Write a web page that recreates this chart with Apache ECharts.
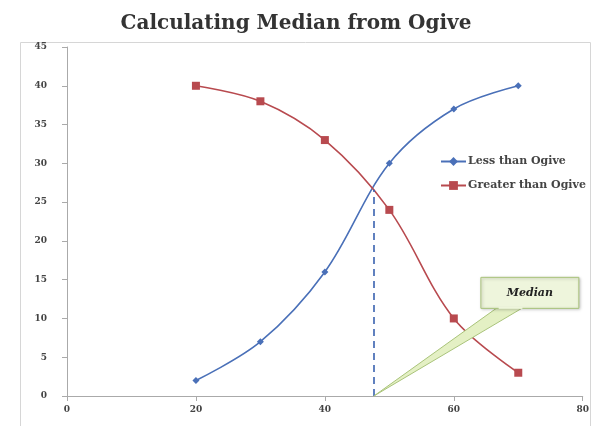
<!DOCTYPE html>
<html>
<head>
<meta charset="utf-8">
<script src="https://cdn.jsdelivr.net/npm/echarts@6/dist/echarts.min.js"></script>
<style>
  html, body { margin: 0; padding: 0; background: #fff; }
  #chart { width: 592px; height: 426px; }
</style>
</head>
<body>
<div id="chart"></div>
<script>
// Class upper limits and cumulative frequencies
const classLimits = [20, 30, 40, 50, 60, 70];
const lessThan = [2, 7, 16, 30, 37, 40];
const greaterThan = [40, 38, 33, 24, 10, 3];
const xTicks = [0, 20, 40, 60, 80];
const yTicks = [0, 5, 10, 15, 20, 25, 30, 35, 40, 45];
// Where the two ogives cross
const medianX = 47.6;
const medianY = 26.6;
// Callout box corners in data units (x1, y1, x2, y2) and its pointer base (x1, x2)
const calloutBox = [64.2, 15.3, 79.4, 11.3];
const calloutBase = [66.8, 70.8];

const fontFamily = '"DejaVu Serif", "Liberation Serif", serif';
const blue = '#4a70b8';
const red = '#b84a4f';

const chart = echarts.init(document.getElementById('chart'));

const option = {
  animation: false,
  title: {
    text: 'Calculating Median from Ogive',
    left: 'center',
    top: 9,
    textStyle: { fontFamily, fontSize: 20, fontWeight: 'bold', color: '#333' }
  },
  grid: { left: 67, right: 9, top: 47, bottom: 30, containLabel: false },
  legend: {
    orient: 'vertical',
    left: 435,
    top: 151,
    itemGap: 13,
    itemWidth: 25,
    itemHeight: 11,
    textStyle: { fontFamily, fontSize: 11, fontWeight: 'bold', color: '#444', padding: [0, 0, 0, -3] },
    data: ['Less than Ogive', 'Greater than Ogive']
  },
  xAxis: {
    type: 'value',
    min: xTicks[0],
    max: xTicks[xTicks.length - 1],
    interval: 20,
    axisLine: { lineStyle: { color: '#aaa' } },
    axisTick: { show: true, lineStyle: { color: '#aaa' } },
    splitLine: { show: false },
    axisLabel: { fontFamily, fontSize: 9, fontWeight: 'bold', color: '#444', margin: 9 }
  },
  yAxis: {
    type: 'value',
    min: yTicks[0],
    max: yTicks[yTicks.length - 1],
    interval: 5,
    axisLine: { show: true, lineStyle: { color: '#aaa' } },
    axisTick: { show: true, lineStyle: { color: '#aaa' } },
    splitLine: { show: false },
    axisLabel: { fontFamily, fontSize: 9, fontWeight: 'bold', color: '#444', margin: 20 }
  },
  series: [
    {
      name: 'Less than Ogive',
      type: 'line',
      smooth: 0.35,
      data: classLimits.map((x, i) => [x, lessThan[i]]),
      symbol: 'diamond',
      symbolSize: 7,
      lineStyle: { color: blue, width: 1.6 },
      itemStyle: { color: blue },
      markLine: {
        silent: true,
        symbol: 'none',
        label: { show: false },
        lineStyle: { color: '#3a62b0', type: [7, 5], width: 1.6 },
        data: [[{ coord: [medianX, 0] }, { coord: [medianX, medianY] }]]
      }
    },
    {
      name: 'Greater than Ogive',
      type: 'line',
      smooth: 0.35,
      data: classLimits.map((x, i) => [x, greaterThan[i]]),
      symbol: 'rect',
      symbolSize: 8,
      lineStyle: { color: red, width: 1.6 },
      itemStyle: { color: red }
    }
  ]
};

chart.setOption(option);

// Callout "Median" with a pointer to the foot of the median line
const p = (x, y) => chart.convertToPixel({ gridIndex: 0 }, [x, y]);
const tl = p(calloutBox[0], calloutBox[1]);
const br = p(calloutBox[2], calloutBox[3]);
const tip = p(medianX, 0);
const b1 = p(calloutBase[0], calloutBox[3]);
const b2 = p(calloutBase[1], calloutBox[3]);

chart.setOption({
  graphic: [
    {
      type: 'rect',
      shape: { x: 20.5, y: 42.5, width: 570, height: 384 },
      style: { fill: 'none', stroke: '#d6d6d6', lineWidth: 1 },
      silent: true,
      z: -10
    },
    {
      type: 'polygon',
      shape: { points: [[b1[0], b1[1] - 1], tip, [b2[0], b2[1] - 1]] },
      style: { fill: '#e4f0c4', stroke: '#a9c37a', lineWidth: 1 },
      z: 100
    },
    {
      type: 'rect',
      shape: { x: tl[0], y: tl[1], width: br[0] - tl[0], height: br[1] - tl[1] },
      style: { fill: '#eef5dc', stroke: '#a9c37a', lineWidth: 1, shadowBlur: 3, shadowColor: 'rgba(0,0,0,0.25)', shadowOffsetX: 1, shadowOffsetY: 1 },
      z: 101
    },
    {
      type: 'polygon',
      shape: { points: [[b1[0] + 1, b1[1] - 1.5], [b2[0] - 1, b2[1] - 1.5], [b2[0] - 1, b2[1] + 0.5], [b1[0] + 1, b1[1] + 0.5]] },
      style: { fill: '#eef5dc' },
      z: 102
    },
    {
      type: 'text',
      style: {
        text: 'Median',
        x: (tl[0] + br[0]) / 2,
        y: (tl[1] + br[1]) / 2,
        align: 'center',
        verticalAlign: 'middle',
        fontFamily,
        fontSize: 11,
        fontWeight: 'bold',
        fontStyle: 'italic',
        fill: '#222'
      },
      z: 103
    }
  ]
});
</script>
</body>
</html>
